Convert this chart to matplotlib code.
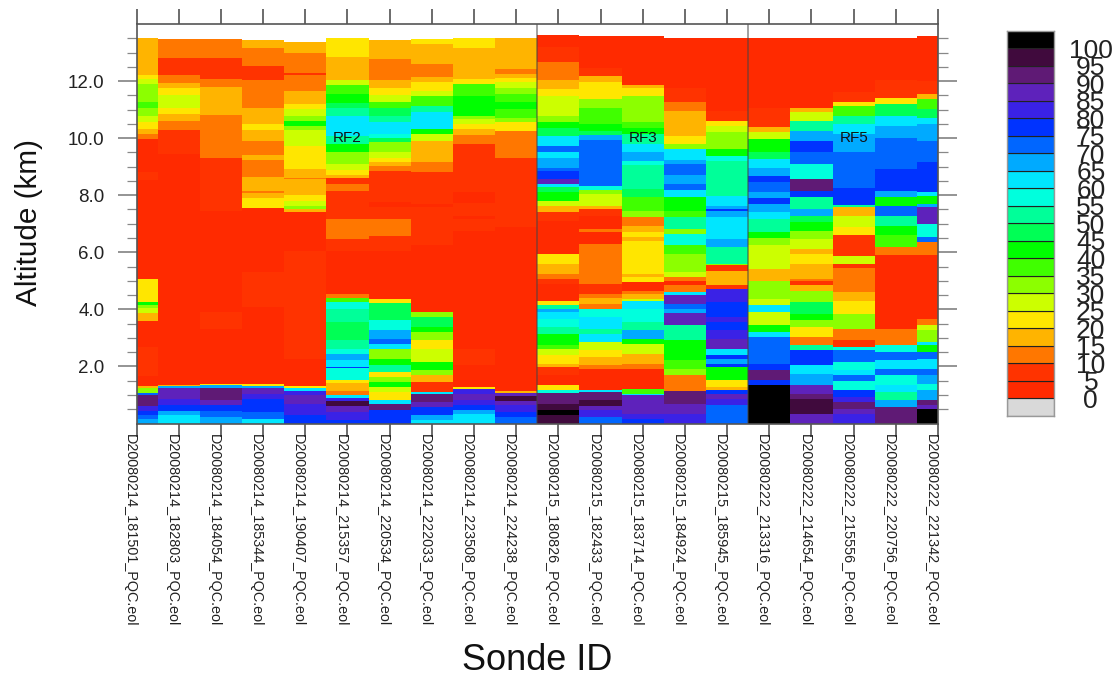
import matplotlib
matplotlib.use("Agg")
import matplotlib.pyplot as plt
from matplotlib.colors import ListedColormap, BoundaryNorm
import numpy as np

plt.rcParams['font.family'] = ['Liberation Sans', 'DejaVu Sans']

sonde_ids = ["D20080214_181501_PQC.eol", "D20080214_182803_PQC.eol", "D20080214_184054_PQC.eol",
             "D20080214_185344_PQC.eol", "D20080214_190407_PQC.eol", "D20080214_215357_PQC.eol",
             "D20080214_220534_PQC.eol", "D20080214_222033_PQC.eol", "D20080214_223508_PQC.eol",
             "D20080214_224238_PQC.eol", "D20080215_180826_PQC.eol", "D20080215_182433_PQC.eol",
             "D20080215_183714_PQC.eol", "D20080215_184924_PQC.eol", "D20080215_185945_PQC.eol",
             "D20080222_213316_PQC.eol", "D20080222_214654_PQC.eol", "D20080222_215556_PQC.eol",
             "D20080222_220756_PQC.eol", "D20080222_221342_PQC.eol"]

# Altitude layer edges (km, top downward) and humidity class of each layer (%)
alt00 = [13.52,12.20,12.06,11.89,11.27,11.07,10.78,10.57,10.31,10.16,9.97,8.82,8.54,5.05,4.25,4.16,4.04,3.87,3.59,2.68,1.65,1.32,1.25,1.08,.99,.62,.44,.29,.15,0]
rh00 = [15,20,25,30,35,30,25,20,15,10,0,5,0,20,40,30,25,15,0,5,0,15,30,70,90,80,75,70,65]
alt01 = [13.46,12.82,12.20,11.92,11.74,11.52,11.07,10.86,10.61,10.29,9.44,1.36,1.32,1.25,.87,.64,.44,.29,0]
rh01 = [10,5,10,15,20,25,20,15,10,5,0,15,65,85,80,75,65,60]
alt02 = [13.46,12.82,12.06,11.79,10.82,9.32,7.46,3.90,3.32,1.40,1.34,1.25,.82,.64,.44,.23,0]
rh02 = [10,5,10,15,10,5,0,5,0,20,65,90,85,75,70,65]
alt03 = [13.44,13.15,12.53,12.03,11.05,10.49,10.28,9.91,9.41,9.24,8.65,8.16,8.08,7.90,7.54,5.30,4.08,1.38,1.32,1.25,1.05,.87,.41,.17,0]
rh03 = [15,10,5,10,15,20,15,10,15,10,15,10,15,20,0,5,0,20,65,85,80,75,70,60]
alt04 = [13.37,12.99,12.27,12.21,11.66,11.18,11.01,10.78,10.61,10.43,10.29,9.73,8.92,8.62,8.57,8.01,7.81,7.63,7.52,7.40,6.03,2.27,1.32,1.25,1.13,.99,.70,.29,0]
rh04 = [15,10,5,10,15,20,25,30,40,30,25,20,15,10,15,20,25,30,15,0,5,0,20,60,80,85,80,75]
alt05 = [13.52,12.86,12.03,11.85,11.54,11.22,11.07,10.78,10.08,9.79,9.50,9.09,8.89,8.72,8.62,8.39,8.16,7.17,6.47,6.06,4.55,4.39,4.25,4.02,3.55,2.91,2.62,2.45,2.21,1.98,1.95,1.52,1.42,1.13,.99,.91,.79,.62,.41,.12,0]
rh05 = [20,15,25,35,40,45,50,60,50,40,30,25,20,15,5,10,5,10,5,0,10,35,55,50,45,50,55,65,60,75,55,20,15,10,60,80,95,85,80,75]
alt06 = [13.44,12.76,12.04,11.74,11.50,11.27,11.07,10.78,10.55,10.14,10.02,9.85,9.52,9.32,9.18,9.03,8.86,7.75,7.58,7.17,6.56,6.06,4.37,4.23,3.61,3.26,2.97,2.80,2.62,2.27,2.04,1.81,1.63,1.46,1.28,1.11,.82,.70,.47,0]
rh06 = [15,10,15,20,25,35,45,50,60,55,45,30,25,20,15,10,5,0,5,10,5,0,20,45,55,65,70,60,30,40,50,20,30,40,25,20,60,90,75]
alt07 = [13.48,13.29,12.59,12.16,11.95,11.66,11.48,11.13,10.90,10.31,10.14,9.91,9.15,8.82,7.69,7.58,6.24,3.90,3.73,3.38,3.21,2.91,2.62,2.16,1.86,1.69,1.46,1.11,1.05,.76,.58,.29,.12,0]
rh07 = [20,15,10,15,20,25,35,50,60,40,25,15,10,5,0,5,0,30,45,40,30,20,25,40,30,15,5,60,90,85,75,65,60]
alt08 = [13.52,13.15,12.06,11.89,11.48,10.78,10.66,10.49,10.31,10.10,9.79,8.10,7.73,7.28,7.17,6.76,2.62,2.06,1.28,1.22,1.05,.82,.64,.47,.35,0]
rh08 = [20,15,20,35,40,30,25,20,15,10,5,0,5,0,5,0,5,0,20,80,85,80,75,65,60]
alt09 = [13.52,12.41,12.24,12.10,11.95,11.77,11.54,11.25,11.01,10.72,10.55,10.26,9.32,6.88,1.13,1.07,.97,.78,.64,.41,.23,0]
rh09 = [15,10,15,20,25,30,35,40,35,30,20,10,5,0,15,85,95,85,80,75,70]
alt10 = [13.61,13.21,12.68,12.04,11.71,11.48,10.78,10.55,10.37,10.08,9.73,9.50,9.29,8.97,8.86,8.57,8.39,8.28,8.10,7.81,7.63,7.40,7.11,5.94,5.59,5.24,5.07,4.90,4.31,4.14,4.02,3.90,3.67,3.38,3.15,2.74,2.62,2.39,2.10,1.98,1.71,1.34,1.17,1.07,.70,.47,.29,0]
rh10 = [0,5,10,15,20,25,30,40,45,60,70,60,65,70,75,85,60,45,40,25,15,5,0,20,15,10,5,0,20,50,65,60,55,50,40,35,25,20,15,5,0,20,55,90,95,100,95]
alt11 = [13.58,12.45,12.18,11.98,11.36,11.07,10.49,10.26,10.10,9.94,8.33,8.19,8.04,7.63,7.52,7.28,6.82,6.70,6.29,4.90,4.55,4.39,4.20,4.02,3.73,3.32,3.15,2.86,2.56,2.33,2.04,1.92,1.17,1.11,.82,.62,.47,.23,0]
rh11 = [0,5,15,20,30,35,40,45,65,70,55,30,25,15,5,0,10,0,10,5,10,15,10,55,60,50,60,25,20,15,10,0,60,90,95,85,80,70]
alt12 = [13.58,11.86,11.77,11.48,10.57,10.37,10.14,9.79,9.50,9.21,9.06,8.22,7.93,7.46,7.23,6.93,6.70,6.53,6.41,5.24,5.13,4.95,4.66,4.55,4.37,4.31,4.02,3.55,3.26,2.97,2.80,2.45,2.10,1.92,1.22,1.05,.99,.35,.17,0]
rh12 = [0,15,20,30,35,40,50,60,65,55,50,45,35,30,10,15,20,15,20,15,20,0,10,15,25,60,55,50,65,40,25,15,10,0,35,60,85,80,75]
alt13 = [13.52,11.74,11.27,10.96,10.08,9.79,9.62,9.24,9.09,8.71,8.39,8.19,7.93,7.46,7.23,6.82,6.64,6.24,5.94,5.30,5.13,5.01,4.84,4.60,4.51,4.20,4.02,3.88,3.44,2.91,2.21,1.92,1.69,1.13,.70,.35,0]
rh13 = [0,5,10,15,20,30,60,65,70,65,70,60,40,35,50,30,55,35,30,25,10,0,10,60,85,70,65,85,50,40,35,30,10,90,85,80]
alt14 = [13.52,10.96,10.61,10.41,10.20,9.62,9.38,9.21,7.98,7.63,7.52,7.46,7.23,6.45,6.18,5.59,5.54,5.36,4.84,4.72,4.25,3.73,3.55,3.26,2.97,2.62,2.39,2.27,2.10,1.98,1.52,1.28,1.17,1.05,.87,.64,0]
rh14 = [0,5,20,25,30,40,55,50,60,65,75,65,60,65,50,30,5,15,5,80,75,80,75,80,85,60,75,65,75,40,20,15,75,85,80,70]
alt15 = [13.52,11.04,10.40,10.20,9.97,9.50,9.27,8.97,8.68,8.45,8.10,7.89,7.69,7.40,7.17,6.70,6.49,6.24,5.40,5.01,4.37,4.16,3.90,3.44,3.21,3.03,2.10,1.86,1.52,1.34,0]
rh15 = [0,5,15,25,40,45,60,65,75,70,65,75,65,60,50,40,30,25,15,30,25,60,25,40,60,70,75,90,75,100]
alt16 = [13.52,11.04,10.90,10.61,10.26,9.91,9.50,9.09,8.57,8.16,7.93,7.52,7.28,7.05,6.76,6.47,6.12,5.94,5.59,5.07,4.99,4.84,4.66,4.25,3.85,3.61,3.38,3.03,2.74,2.59,2.06,1.75,1.34,1.05,.87,.35,0]
rh16 = [0,15,25,50,65,75,70,55,90,75,50,65,45,40,30,25,15,20,15,10,5,15,30,45,40,30,20,10,50,75,60,65,85,90,95,85]
alt17 = [13.52,11.62,11.27,11.13,10.78,10.49,10.14,9.50,8.24,7.66,7.58,7.28,6.88,6.59,5.86,5.59,5.44,4.60,4.28,3.85,3.32,2.91,2.68,2.59,2.16,1.86,1.71,1.48,1.17,.93,.76,.52,.35,0]
rh17 = [0,5,20,35,50,60,65,70,75,50,15,25,20,5,25,5,10,15,20,30,10,5,55,70,55,60,70,55,75,80,90,85,80]
alt18 = [13.52,12.03,11.40,11.19,10.78,10.43,10.02,8.92,8.16,7.93,7.63,7.28,6.93,6.59,6.18,5.89,3.32,2.74,2.51,2.21,1.92,1.71,1.36,1.11,.82,.58,0]
rh18 = [0,5,20,45,60,65,70,75,65,40,70,50,40,35,10,0,10,55,70,60,70,55,60,50,65,90]
alt19 = [13.58,12.00,11.54,11.36,11.01,10.72,10.49,9.91,9.15,8.10,7.98,7.69,7.58,6.99,6.53,6.35,5.89,3.67,3.44,3.26,2.86,2.74,2.51,2.27,1.92,1.69,1.40,1.17,.82,.64,.52,0]
rh19 = [0,5,15,35,45,60,65,70,75,60,40,65,85,55,70,10,0,10,25,30,60,40,70,60,70,65,55,65,90,85,100]

altitudes = [alt00,alt01,alt02,alt03,alt04,alt05,alt06,alt07,alt08,alt09,
             alt10,alt11,alt12,alt13,alt14,alt15,alt16,alt17,alt18,alt19]
humidity = [rh00,rh01,rh02,rh03,rh04,rh05,rh06,rh07,rh08,rh09,
            rh10,rh11,rh12,rh13,rh14,rh15,rh16,rh17,rh18,rh19]

level_labels = list(range(0, 105, 5))
class_colors = ['#d9d9d9','#ff2a00','#ff3300','#ff7700','#ffb400','#ffe600','#ccff00','#8cff00',
                '#40ff00','#00ff00','#00ff55','#00ff99','#00ffdd','#00e6ff','#00aaff','#0066ff',
                '#0033ff','#3a22e6','#5e22bb','#5f1a75','#400a3d','#000000']
flight_names = ["RF2", "RF3", "RF5"]
flight_centres = [5, 12, 17]
flight_breaks = [9.5, 14.5]

W, H = 1117, 677
cmap = ListedColormap(class_colors)
norm = BoundaryNorm([-5] + level_labels + [105], cmap.N)

fig = plt.figure(figsize=(W/100, H/100), dpi=100)
L, R, T, B = 136.5, 938.0, 24.0, 423.5
ax = fig.add_axes([L/W, 1-B/H, (R-L)/W, (B-T)/H])

for i, (edges, vals) in enumerate(zip(altitudes, humidity, strict=True)):
    edges = np.array(edges)
    assert len(edges) == len(vals) + 1, i
    ax.bar(np.full(len(vals), i), edges[:-1]-edges[1:], bottom=edges[1:], width=1.0,
           color=cmap(norm(vals)), linewidth=0, antialiased=False, zorder=1)

ax.set_xlim(0, 19)
ax.set_ylim(0, 14)
for xb in flight_breaks:
    ax.axvline(xb, color='#444444', alpha=0.5, lw=1.4, zorder=3)
for name, xc in zip(flight_names, flight_centres):
    ax.text(xc, 10.0, name, ha='center', va='center', fontsize=11, color='#111111', zorder=4)

ax.set_yticks(np.arange(2, 13, 2))
ax.set_yticklabels([f"{v:.1f}" for v in np.arange(2, 13, 2)], fontsize=13.5, color='#222222')
ax.set_yticks(np.arange(0.5, 14, 0.5), minor=True)
ax.tick_params(axis='y', which='major', direction='out', left=True, right=True,
               length=13.5, width=1.1, color='#777777', pad=9.4)
ax.tick_params(axis='y', which='minor', direction='out', left=True, right=True,
               length=7, width=0.9, color='#888888')
ax.set_xticks(np.arange(20))
ax.set_xticklabels(sonde_ids, rotation=-90, ha='right', va='top', fontsize=10.4, color='#222222',
                   rotation_mode='default')
ax.tick_params(axis='x', direction='out', top=True, bottom=True, length=9.5, width=1.1,
               color='#444444', pad=-2)
for tk in ax.xaxis.get_major_ticks():
    tk.tick2line.set_markersize(10.8)
for sp in ax.spines.values():
    sp.set_color('#555555')
    sp.set_linewidth(1.2)
    sp.set_zorder(5)

fig.text(29/W, 1-223/H, "Altitude (km)", rotation=90, ha='center', va='center', fontsize=21.4, color='#111111')
fig.text(537.5/W, 1-660/H, "Sonde ID", ha='center', va='center', fontsize=26, color='#111111')

# Colour key
cax = fig.add_axes([1007/W, 1-416/H, 47/W, 385.3/H])
idx = np.arange(len(class_colors))
cax.bar(np.zeros(len(idx)), np.ones(len(idx)), bottom=idx, width=1.0, color=class_colors,
        edgecolor='#222222', linewidth=0.8)
cax.set_xlim(-0.5, 0.5)
cax.set_ylim(0, len(idx))
cax.set_xticks([])
cax.yaxis.tick_right()
cax.set_yticks(idx[1:])
cax.set_yticklabels([str(v) for v in level_labels], ha='center', fontsize=19, color='#222222')
cax.tick_params(axis='y', length=0, pad=26.5)
for sp in cax.spines.values():
    sp.set_color('#999999')
    sp.set_linewidth(1.0)

fig.savefig('out.png', dpi=100)
